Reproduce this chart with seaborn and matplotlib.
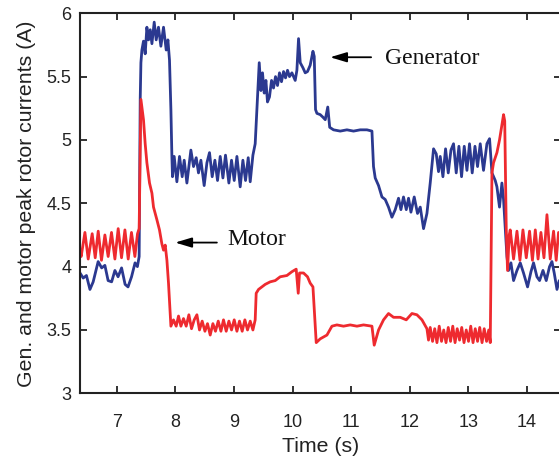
import matplotlib
matplotlib.use("Agg")
import matplotlib.pyplot as plt
import seaborn as sns
import pandas as pd

# ---------------- data ----------------
gen_t = [6.37, 6.425, 6.48, 6.54, 6.595, 6.68, 6.74, 6.795, 6.85, 6.91, 6.966, 7.02, 7.08, 7.14, 7.19,
         7.25, 7.31, 7.35, 7.38, 7.398, 7.41, 7.427, 7.454, 7.483, 7.512, 7.54, 7.569, 7.598, 7.637,
         7.671, 7.71, 7.751, 7.796, 7.842, 7.871, 7.898, 7.922, 7.939, 7.949, 7.978, 8.024, 8.069,
         8.115, 8.149, 8.195, 8.263, 8.308, 8.354, 8.393, 8.434, 8.49, 8.537, 8.581, 8.627, 8.673,
         8.718, 8.764, 8.81, 8.854, 8.912, 8.957, 9.003, 9.049, 9.105, 9.151, 9.196, 9.242, 9.276,
         9.322, 9.361, 9.401, 9.43, 9.459, 9.486, 9.515, 9.544, 9.571, 9.605, 9.64, 9.674, 9.708,
         9.742, 9.776, 9.81, 9.845, 9.879, 9.913, 9.947, 9.988, 10.044, 10.073, 10.101, 10.13,
         10.176, 10.215, 10.254, 10.30, 10.347, 10.369, 10.391, 10.415, 10.471, 10.517, 10.557,
         10.60, 10.633, 10.698, 10.813, 10.927, 11.04, 11.154, 11.269, 11.354, 11.381, 11.41,
         11.467, 11.525, 11.581, 11.637, 11.695, 11.752, 11.808, 11.849, 11.893, 11.94, 11.979,
         12.02, 12.076, 12.132, 12.179, 12.235, 12.293, 12.349, 12.406, 12.452, 12.491, 12.52,
         12.566, 12.611, 12.657, 12.703, 12.747, 12.793, 12.839, 12.884, 12.93, 12.976, 13.02,
         13.066, 13.113, 13.157, 13.203, 13.259, 13.317, 13.362, 13.403, 13.459, 13.488, 13.532,
         13.573, 13.601, 13.659, 13.686, 13.727, 13.772, 13.83, 13.886, 13.942, 14.011, 14.069,
         14.113, 14.171, 14.216, 14.274, 14.33, 14.386, 14.427, 14.466, 14.513, 14.552]
gen_i = [3.95, 3.91, 3.93, 3.82, 3.88, 4.04, 3.99, 4.01, 3.89, 3.88, 3.97, 3.92, 3.99, 3.86, 3.84,
         3.92, 4.03, 4.00, 4.08, 5.32, 5.61, 5.71, 5.78, 5.68, 5.89, 5.79, 5.87, 5.76, 5.93,
         5.79, 5.89, 5.74, 5.89, 5.71, 5.79, 5.63, 5.24, 4.87, 4.71, 4.87, 4.67, 4.87,
         4.71, 4.84, 4.66, 4.92, 4.79, 4.86, 4.74, 4.84, 4.64, 4.82, 4.90, 4.71, 4.84,
         4.68, 4.87, 4.70, 4.88, 4.66, 4.84, 4.68, 4.87, 4.63, 4.84, 4.68, 4.86, 4.67,
         4.88, 4.97, 5.34, 5.61, 5.39, 5.53, 5.37, 5.47, 5.30, 5.34, 5.47, 5.41, 5.50,
         5.43, 5.53, 5.46, 5.54, 5.49, 5.55, 5.50, 5.53, 5.47, 5.55, 5.80, 5.61,
         5.57, 5.53, 5.54, 5.59, 5.70, 5.66, 5.24, 5.21, 5.20, 5.18, 5.16,
         5.26, 5.10, 5.08, 5.07, 5.08, 5.07, 5.08, 5.08, 5.07, 4.79, 4.70,
         4.64, 4.55, 4.53, 4.47, 4.39, 4.45, 4.54, 4.45, 4.55, 4.45, 4.54,
         4.43, 4.55, 4.42, 4.47, 4.30, 4.42, 4.66, 4.93, 4.89, 4.75, 4.87,
         4.71, 4.93, 4.74, 4.92, 4.97, 4.74, 4.95, 4.71, 4.95, 4.76, 4.97,
         4.74, 4.95, 4.79, 4.97, 4.76, 4.97, 5.01, 4.74, 4.68, 4.63, 4.47,
         4.66, 4.53, 4.08, 3.97, 4.03, 3.89, 3.97, 4.03, 3.95, 3.84, 3.96,
         4.03, 3.92, 3.89, 3.97, 3.89, 4.00, 4.04, 3.95, 3.82, 3.89]

mot_t = [6.37, 6.39, 6.454, 6.51, 6.578, 6.63, 6.681, 6.737, 6.795, 6.851, 6.908, 6.966, 7.022,
         7.079, 7.137, 7.193, 7.249, 7.307, 7.352, 7.38, 7.40, 7.41, 7.454, 7.483, 7.512, 7.557,
         7.598, 7.625, 7.683, 7.727, 7.768, 7.796, 7.825, 7.854, 7.881, 7.922, 7.966, 8.012,
         8.052, 8.093, 8.137, 8.183, 8.229, 8.274, 8.32, 8.366, 8.41, 8.456, 8.503, 8.547, 8.593,
         8.639, 8.683, 8.73, 8.776, 8.82, 8.866, 8.912, 8.957, 9.003, 9.049, 9.093, 9.139, 9.185,
         9.23, 9.276, 9.322, 9.361, 9.378, 9.418, 9.476, 9.532, 9.617, 9.703, 9.788, 9.903,
         9.988, 10.061, 10.096, 10.118, 10.186, 10.254, 10.30, 10.347, 10.403, 10.471, 10.586,
         10.671, 10.756, 10.869, 10.983, 11.098, 11.21, 11.354, 11.393, 11.467, 11.552, 11.637,
         11.723, 11.837, 11.94, 12.037, 12.122, 12.208, 12.293, 12.32, 12.349, 12.389, 12.426,
         12.464, 12.503, 12.542, 12.58, 12.619, 12.657, 12.696, 12.734, 12.773, 12.81, 12.85,
         12.887, 12.926, 12.964, 13.003, 13.041, 13.08, 13.118, 13.157, 13.194, 13.234, 13.271,
         13.311, 13.348, 13.374, 13.403, 13.43, 13.488, 13.532, 13.573, 13.601, 13.621, 13.647,
         13.669, 13.698, 13.715, 13.772, 13.83, 13.881, 13.932, 13.989, 14.045, 14.094, 14.143,
         14.19, 14.239, 14.291, 14.342, 14.398, 14.455, 14.50, 14.54]
mot_i = [4.12, 4.08, 4.27, 4.06, 4.26, 4.07, 4.28, 4.05, 4.25, 4.08, 4.27, 4.06, 4.30,
         4.07, 4.29, 4.06, 4.27, 4.08, 4.26, 4.30, 4.95, 5.32, 5.16, 4.97, 4.82, 4.66,
         4.58, 4.47, 4.37, 4.29, 4.18, 4.13, 4.17, 4.05, 3.87, 3.53, 3.58, 3.53,
         3.61, 3.53, 3.59, 3.53, 3.62, 3.51, 3.58, 3.62, 3.50, 3.57, 3.49, 3.55, 3.46,
         3.55, 3.49, 3.57, 3.49, 3.58, 3.49, 3.57, 3.50, 3.58, 3.49, 3.57, 3.49, 3.58,
         3.50, 3.57, 3.50, 3.58, 3.79, 3.82, 3.84, 3.86, 3.88, 3.89, 3.92, 3.93,
         3.96, 3.98, 3.79, 3.95, 3.95, 3.92, 3.87, 3.84, 3.40, 3.43, 3.46,
         3.53, 3.54, 3.53, 3.54, 3.53, 3.54, 3.53, 3.38, 3.50, 3.58, 3.63,
         3.60, 3.60, 3.58, 3.63, 3.62, 3.58, 3.51, 3.42, 3.52, 3.41, 3.51,
         3.40, 3.53, 3.41, 3.50, 3.40, 3.52, 3.41, 3.53, 3.40, 3.51, 3.42,
         3.52, 3.40, 3.50, 3.41, 3.53, 3.40, 3.51, 3.41, 3.52, 3.40, 3.51,
         3.41, 3.50, 3.40, 4.74, 4.82, 4.90, 5.00, 5.12, 5.20, 5.15, 4.30,
         3.97, 4.25, 4.29, 4.06, 4.28, 4.05, 4.29, 4.07, 4.28, 4.05, 4.29,
         4.06, 4.27, 4.07, 4.41, 4.06, 4.28, 4.05, 4.27]

x_ticks = [7, 8, 9, 10, 11, 12, 13, 14]
y_ticks = [3, 3.5, 4, 4.5, 5, 5.5, 6]
y_tick_labels = ["3", "3.5", "4", "4.5", "5", "5.5", "6"]

gen_df = pd.DataFrame({"t": gen_t, "i": gen_i})
mot_df = pd.DataFrame({"t": mot_t, "i": mot_i})

# ---------------- styling ----------------
sns.set_theme(style="ticks")
plt.rcParams["font.family"] = ["Liberation Sans", "DejaVu Sans"]

BLUE = "#2B3990"
RED = "#EE2A2F"

fig = plt.figure(figsize=(5.59, 4.63), dpi=100)
# right spine sits just outside the canvas, as in the cropped reference
ax = fig.add_axes([0.1431, 0.1505, 0.8605, 0.8208])

sns.lineplot(data=gen_df, x="t", y="i", color=BLUE, lw=2.0, sort=False,
             estimator=None, ax=ax)
sns.lineplot(data=mot_df, x="t", y="i", color=RED, lw=2.0, sort=False,
             estimator=None, ax=ax)

ax.set_xlim(6.37, 14.582)
ax.set_ylim(3, 6)
ax.set_xticks(x_ticks)
ax.set_yticks(y_ticks)
ax.set_yticklabels(y_tick_labels)

for s in ax.spines.values():
    s.set_linewidth(1.5)
    s.set_color("#222222")
ax.tick_params(direction="in", length=5, width=1.3, top=True, right=True,
               colors="#222222", labelsize=13, labelcolor="#222222")
ax.tick_params(axis="x", pad=15)
ax.tick_params(axis="y", pad=6)

ax.set_xlabel("Time (s)", fontsize=15.3, color="#222222", labelpad=4)
ax.set_ylabel("Gen. and motor peak rotor currents (A)", fontsize=15.3,
              color="#222222", labelpad=8)

arrow = dict(arrowstyle="-|>,head_length=1.0,head_width=0.3", color="black",
             lw=1.3, mutation_scale=10, shrinkA=0, shrinkB=0)
ax.annotate("", xy=(10.64, 5.653), xytext=(11.34, 5.653), arrowprops=arrow)
ax.text(11.58, 5.60, "Generator", family=["Liberation Serif", "DejaVu Serif"],
        fontsize=17, va="baseline", ha="left", color="#111111")
ax.annotate("", xy=(7.995, 4.19), xytext=(8.707, 4.19), arrowprops=arrow)
ax.text(8.878, 4.17, "Motor", family=["Liberation Serif", "DejaVu Serif"],
        fontsize=17, va="baseline", ha="left", color="#111111")

fig.savefig("out.png", dpi=100)
